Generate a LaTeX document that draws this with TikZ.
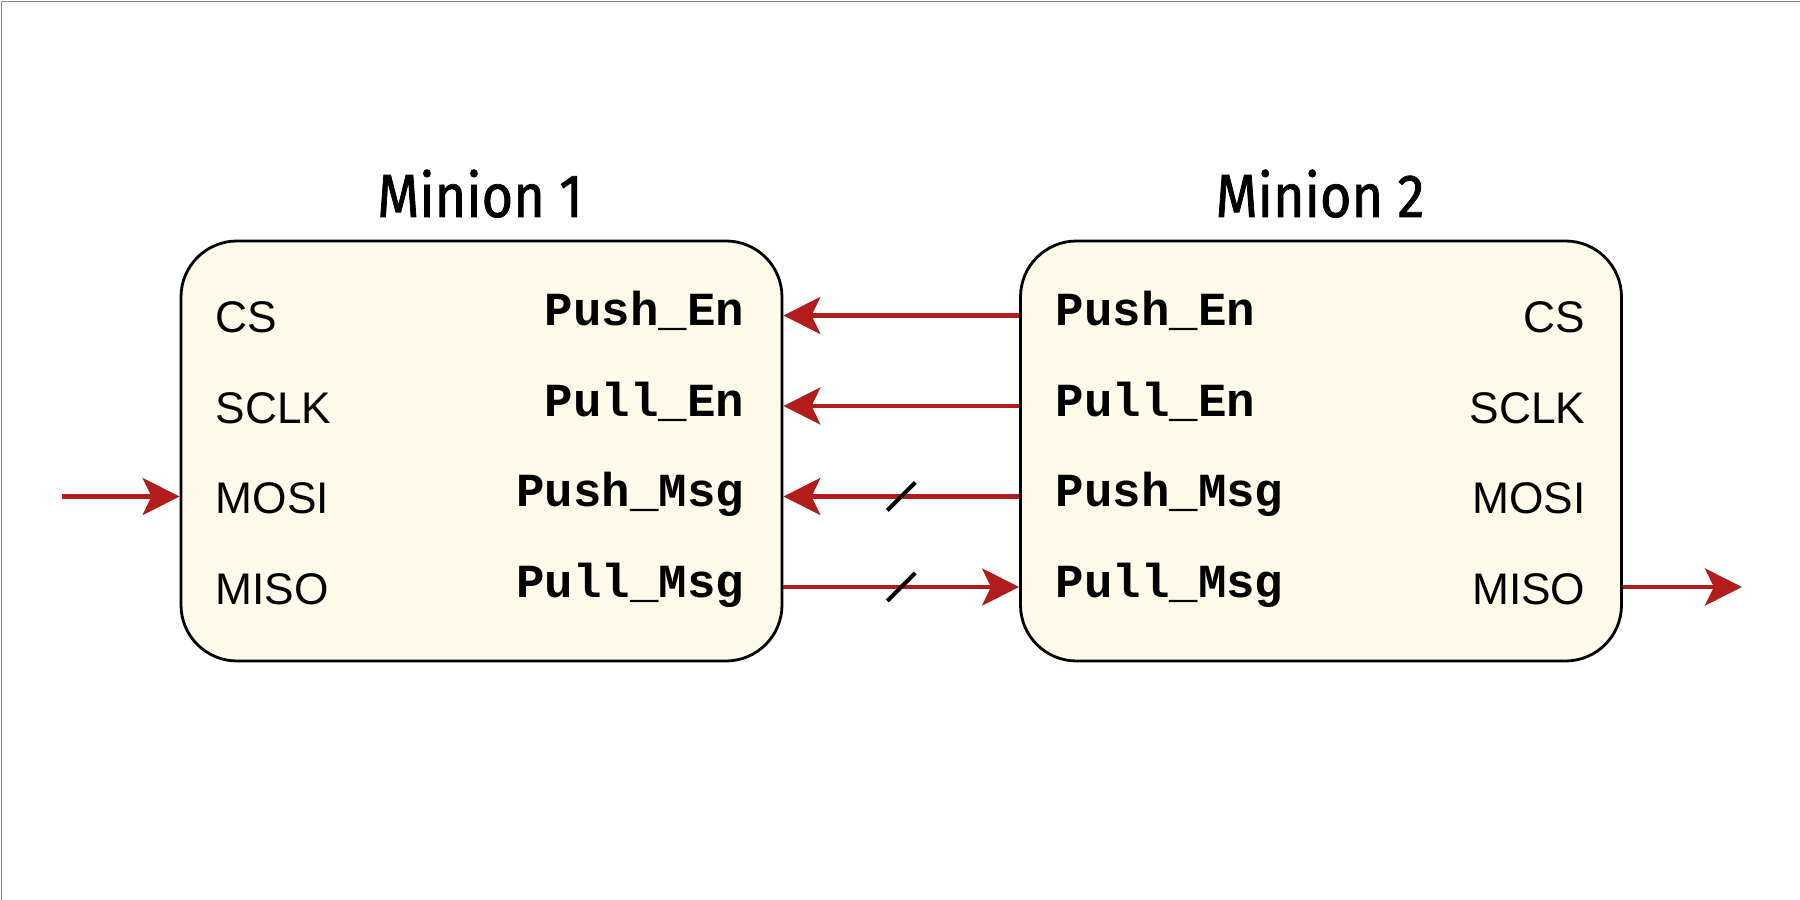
\documentclass[tikz,border=0pt]{standalone}
\usepackage{fontspec}
\setmainfont{Liberation Sans}
\setmonofont{Liberation Mono}
\newfontfamily\titlefont{Fira Sans}[FakeBold=1.2,FakeStretch=0.89]
\usetikzlibrary{arrows.meta}
\definecolor{wirered}{RGB}{178,28,28}
\definecolor{boxcream}{RGB}{253,250,234}
\definecolor{framegray}{RGB}{136,136,136}
\tikzset{
  minionbox/.style={draw, line width=0.8pt, fill=boxcream, rounded corners=0.56cm,
    minimum width=6.01cm, minimum height=4.2cm, inner sep=0pt},
  boxtitle/.style={font=\titlefont\fontsize{17.3}{20}\selectfont, anchor=base, inner sep=0pt},
  pin/.style={font=\fontsize{12.6}{15}\selectfont, inner sep=0pt},
  port/.style={font=\ttfamily\bfseries\fontsize{13.5}{16}\selectfont, inner sep=0pt},
  wire/.style={wirered, line width=1.4pt, -{Stealth[length=10.5pt,width=10.5pt,inset=2.5pt]}},
  busmark/.style={line width=1.2pt}
}
\begin{document}
\begin{tikzpicture}
\useasboundingbox (0,0) rectangle (18,9);
% frame (top and left only)
\draw[framegray, line width=0.3pt] (0.013,0) -- (0.013,8.987) -- (18,8.987);
% the two minions
\node[minionbox] (m1) at (4.815,4.49) {};
\node[minionbox] (m2) at (13.21,4.49) {};
\node[boxtitle] (t1) at (4.80,6.83) {Minion 1};
\node[boxtitle] (t2) at (13.20,6.83) {Minion 2};
% minion 1 pins
\node[pin, anchor=base west] (m1cs) at (2.15,5.67) {CS};
\node[pin, anchor=base west] (m1sclk) at (2.15,4.765) {SCLK};
\node[pin, anchor=base west] (m1mosi) at (2.15,3.86) {MOSI};
\node[pin, anchor=base west] (m1miso) at (2.15,2.955) {MISO};
\node[port, anchor=base east] (m1pushen) at (7.45,5.74) {Push\_En};
\node[port, anchor=base east] (m1pullen) at (7.45,4.835) {Pull\_En};
\node[port, anchor=base east] (m1pushmsg) at (7.45,3.93) {Push\_Msg};
\node[port, anchor=base east] (m1pullmsg) at (7.45,3.025) {Pull\_Msg};
% minion 2 pins
\node[port, anchor=base west] (m2pushen) at (10.55,5.74) {Push\_En};
\node[port, anchor=base west] (m2pullen) at (10.55,4.835) {Pull\_En};
\node[port, anchor=base west] (m2pushmsg) at (10.55,3.93) {Push\_Msg};
\node[port, anchor=base west] (m2pullmsg) at (10.55,3.025) {Pull\_Msg};
\node[pin, anchor=base east] (m2cs) at (15.86,5.67) {CS};
\node[pin, anchor=base east] (m2sclk) at (15.86,4.765) {SCLK};
\node[pin, anchor=base east] (m2mosi) at (15.86,3.86) {MOSI};
\node[pin, anchor=base east] (m2miso) at (15.86,2.955) {MISO};
% signal rows
\coordinate (r1) at (0,5.845);
\coordinate (r2) at (0,4.94);
\coordinate (r3) at (0,4.035);
\coordinate (r4) at (0,3.13);
\coordinate (in) at (0.62,4.035);
\coordinate (out) at (17.42,3.13);
% wires
\draw[wire] (in) -- (m1.west |- in);
\draw[wire] (m2.west |- r1) -- (m1.east |- r1);
\draw[wire] (m2.west |- r2) -- (m1.east |- r2);
\draw[wire] (m2.west |- r3) -- coordinate[pos=0.5] (b3) (m1.east |- r3);
\draw[wire] (m1.east |- r4) -- coordinate[pos=0.5] (b4) (m2.west |- r4);
\draw[wire] (m2.east |- out) -- (out);
% bus marks
\draw[busmark] ([shift={(-0.14,-0.14)}]b3) -- ([shift={(0.14,0.14)}]b3);
\draw[busmark] ([shift={(-0.14,-0.14)}]b4) -- ([shift={(0.14,0.14)}]b4);
\end{tikzpicture}
\end{document}
